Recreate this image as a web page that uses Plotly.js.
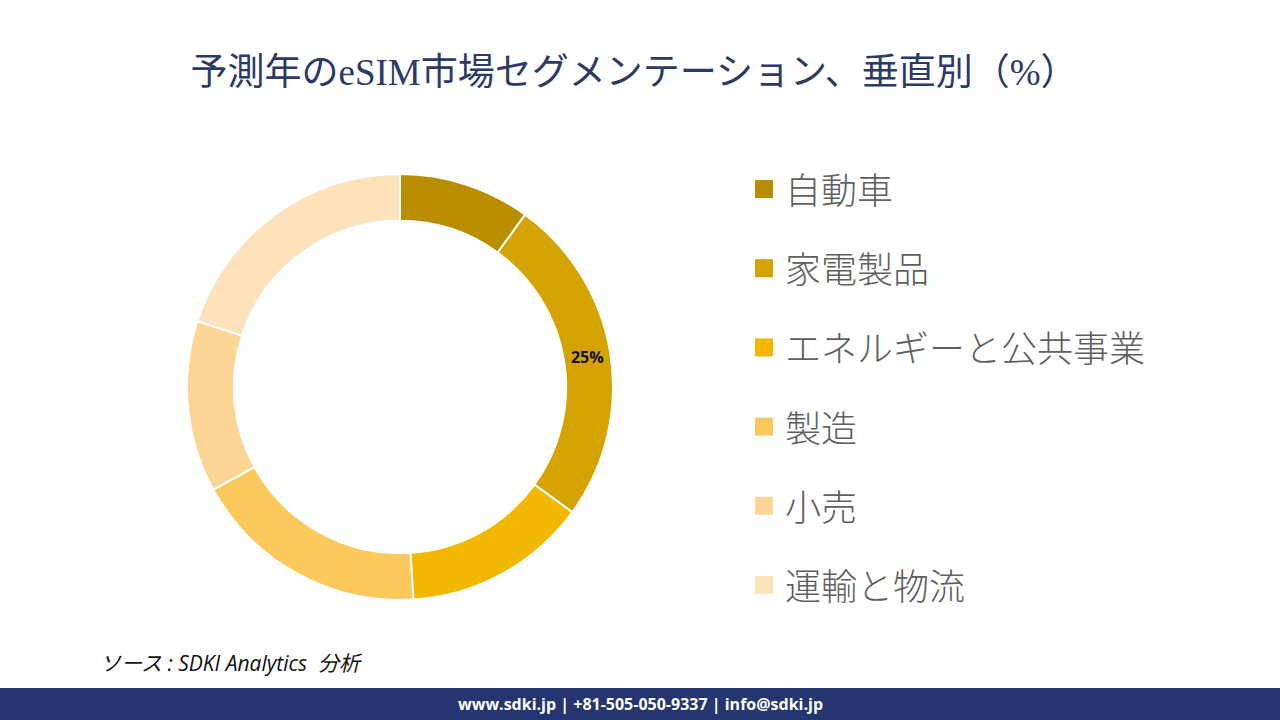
<!DOCTYPE html>
<html>
<head>
<meta charset="utf-8">
<script src="https://cdn.plot.ly/plotly-3.0.1.min.js"></script>
<style>
html,body{margin:0;padding:0;background:#fff;}
#chart{width:1280px;height:720px;}
</style>
</head>
<body>
<div id="chart"></div>
<script>
const categories = ['自動車', '家電製品', 'エネルギーと公共事業', '製造', '小売', '運輸と物流'];
const shares = [10, 25, 14, 18, 13, 20];
const colors = ['#B88E00', '#D5A300', '#F2B800', '#FBC85B', '#FDD594', '#FEE2BB'];
const labelled = [false, true, false, false, false, false];

const titleText = '予測年のeSIM市場セグメンテーション、垂直別（%）';
const sourceText = 'ソース : SDKI Analytics  分析';
const footerText = 'www.sdki.jp | +81-505-050-9337 | info@sdki.jp';

const cjk = '"Noto Sans CJK JP", "Noto Sans", sans-serif';

const pie = {
  type: 'pie',
  labels: categories,
  values: shares,
  sort: false,
  direction: 'clockwise',
  rotation: 0,
  hole: 0.78,
  marker: {colors: colors, line: {color: '#ffffff', width: 2}},
  texttemplate: labelled.map(l => l ? '%{percent:.0%}' : ''),
  textinfo: 'text',
  textposition: 'inside',
  insidetextorientation: 'horizontal',
  textfont: {family: '"Open Sans", "Noto Sans", sans-serif', size: 16, color: '#111111', weight: 'bold'},
  showlegend: false,
  hoverinfo: 'label+percent',
  domain: {x: [(400 - 213) / 1280, (400 + 213) / 1280], y: [1 - 600 / 720, 1 - 174 / 720]}
};

const shapes = [];
const annotations = [];
const legendTop = 189, legendStep = 79.2;
categories.forEach((c, i) => {
  const yc = legendTop + i * legendStep;
  shapes.push({type: 'rect', xref: 'paper', yref: 'paper',
    x0: 755 / 1280, x1: 773 / 1280, y0: 1 - (yc + 9) / 720, y1: 1 - (yc - 9) / 720,
    fillcolor: colors[i], line: {width: 0}});
  annotations.push({xref: 'paper', yref: 'paper', x: 783 / 1280, y: 1 - (yc - 1) / 720,
    xanchor: 'left', yanchor: 'middle', showarrow: false, text: c,
    font: {family: cjk, size: 36, color: '#5F5F5F', weight: 300}});
});

shapes.push({type: 'rect', xref: 'paper', yref: 'paper', x0: 0, x1: 1, y0: 0, y1: 32 / 720,
  fillcolor: '#253570', line: {width: 0}});
annotations.push({xref: 'paper', yref: 'paper', x: 0.5, y: 16 / 720, xanchor: 'center', yanchor: 'middle',
  showarrow: false, text: footerText,
  font: {family: '"Open Sans", "Noto Sans", sans-serif', size: 16, color: '#ffffff', weight: 'bold'}});
annotations.push({xref: 'paper', yref: 'paper', x: 98 / 1280, y: 1 - 663 / 720, xanchor: 'left', yanchor: 'middle',
  showarrow: false, text: '<i>' + sourceText + '</i>',
  font: {family: '"Open Sans", "Noto Sans CJK JP", sans-serif', size: 21, color: '#111111'}});

const layout = {
  width: 1280, height: 720,
  margin: {l: 0, r: 0, t: 0, b: 0},
  paper_bgcolor: '#ffffff',
  title: {text: titleText, x: 634 / 1280, xanchor: 'center', y: 1 - 72 / 720, yanchor: 'middle',
    font: {family: '"Liberation Serif", "Noto Sans CJK JP", serif', size: 37, color: '#2B3A67'}},
  showlegend: false,
  shapes: shapes,
  annotations: annotations
};

Plotly.newPlot('chart', [pie], layout, {displayModeBar: false, staticPlot: true});
</script>
</body>
</html>
